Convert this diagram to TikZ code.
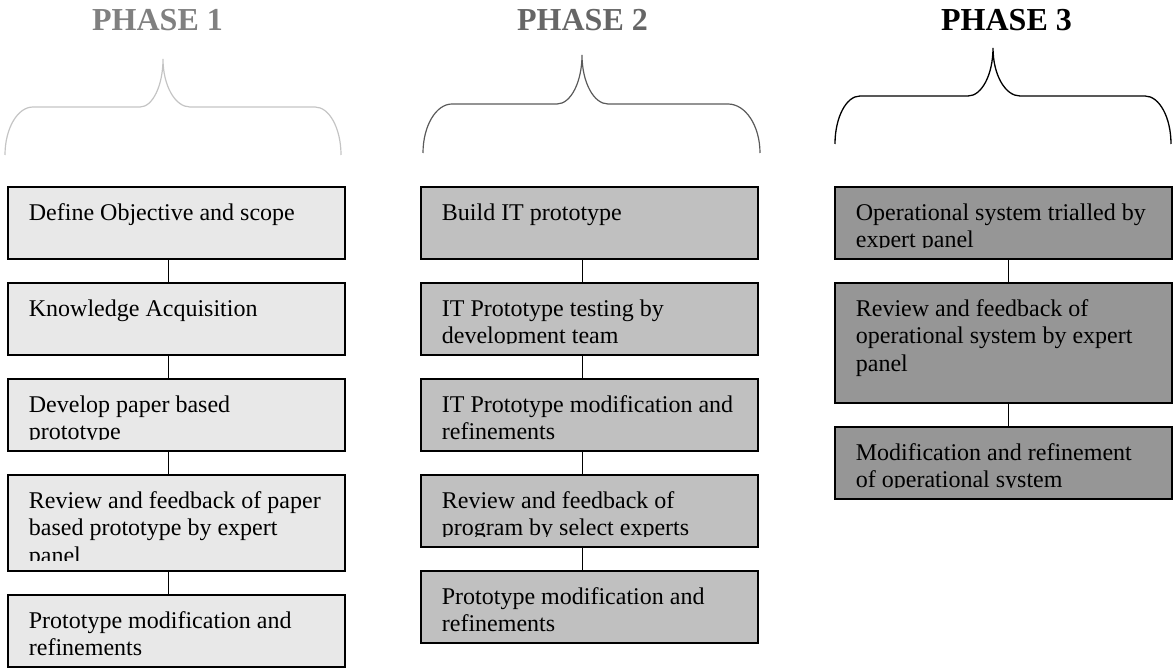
\documentclass[tikz,border=0pt]{standalone}
\usepackage{fontspec}
\setmainfont{Liberation Serif}
\usepackage{tikz}
\definecolor{phaseonefill}{HTML}{E8E8E8}
\definecolor{phasetwofill}{HTML}{C0C0C0}
\definecolor{phasethreefill}{HTML}{969696}
\definecolor{phaseonegrey}{HTML}{808080}
\definecolor{phasetwogrey}{HTML}{666666}
\definecolor{braceone}{HTML}{C4C4C4}
\definecolor{bracetwo}{HTML}{5A5A5A}
\begin{document}
\begin{tikzpicture}[x=0.5pt,y=-0.5pt,
  stage/.style={draw,line width=0.75pt,anchor=north west,inner sep=0pt,outer sep=0pt,minimum width=168.5pt,minimum height=36pt},
  stagetext/.style={anchor=north west,align=left,inner sep=0pt,font=\fontsize{12}{13.7}\selectfont},
  phasetitle/.style={anchor=base,font=\fontsize{16}{19}\selectfont\bfseries},
  link/.style={line width=0.5pt}]
\useasboundingbox (0,0) rectangle (1174,668);

% titles
\node[phasetitle,text=phaseonegrey] (t1) at (157.5,31) {PHASE 1};
\node[phasetitle,text=phasetwogrey] (t2) at (582.5,31) {PHASE 2};
\node[phasetitle,text=black] (t3) at (1006.5,31) {PHASE 3};

% braces
\draw[braceone,line width=0.6pt] (5,155) .. controls (5,128.5) and (17.5,107) .. (33,107) -- (140,107) .. controls (152.7,107) and (163,85.5) .. (163,59) .. controls (163,85.5) and (175.1,107) .. (190,107) -- (315,107) .. controls (329.4,107) and (341,128.5) .. (341,155);
\draw[bracetwo,line width=0.6pt] (423,153) .. controls (423,126) and (436,104) .. (452,104) -- (557,104) .. controls (570.8,104) and (582,82) .. (582,55) .. controls (582,82) and (593.6,104) .. (608,104) -- (728,104) .. controls (745.7,104) and (760,126) .. (760,153);
\draw[black,line width=0.65pt] (835,144) .. controls (835,117.5) and (846.2,96) .. (860,96) -- (968,96) .. controls (981.8,96) and (993,74.5) .. (993,48) .. controls (993,74.5) and (1005.1,96) .. (1020,96) -- (1145,96) .. controls (1159.4,96) and (1171,117.5) .. (1171,144);

% phase 1
\node[stage,fill=phaseonefill] (p1a) at (8,187) {};
\node[stage,fill=phaseonefill] (p1b) at (8,283) {};
\node[stage,fill=phaseonefill] (p1c) at (8,379) {};
\node[stage,fill=phaseonefill,minimum height=48pt] (p1d) at (8,475) {};
\node[stage,fill=phaseonefill] (p1e) at (8,595) {};
\node[stagetext] (p1a-txt) at ([shift={(20.5,13.8)}]p1a.north west) {\strut Define Objective and scope};
\node[stagetext] (p1b-txt) at ([shift={(20.5,13.8)}]p1b.north west) {\strut Knowledge Acquisition};
\node[stagetext] (p1c-txt) at ([shift={(20.5,13.8)}]p1c.north west) {\strut Develop paper based\\prototype};
\node[stagetext] (p1d-txt) at ([shift={(20.5,13.8)}]p1d.north west) {\strut Review and feedback of paper\\based prototype by expert\\panel};
\node[stagetext] (p1e-txt) at ([shift={(20.5,13.8)}]p1e.north west) {\strut Prototype modification and\\refinements};

% phase 2
\node[stage,fill=phasetwofill] (p2a) at (421,187) {};
\node[stage,fill=phasetwofill] (p2b) at (421,283) {};
\node[stage,fill=phasetwofill] (p2c) at (421,379) {};
\node[stage,fill=phasetwofill] (p2d) at (421,475) {};
\node[stage,fill=phasetwofill] (p2e) at (421,571) {};
\node[stagetext] (p2a-txt) at ([shift={(20.5,13.8)}]p2a.north west) {\strut Build IT prototype};
\node[stagetext] (p2b-txt) at ([shift={(20.5,13.8)}]p2b.north west) {\strut IT Prototype testing by\\development team};
\node[stagetext] (p2c-txt) at ([shift={(20.5,13.8)}]p2c.north west) {\strut IT Prototype modification and\\refinements};
\node[stagetext] (p2d-txt) at ([shift={(20.5,13.8)}]p2d.north west) {\strut Review and feedback of\\program by select experts};
\node[stagetext] (p2e-txt) at ([shift={(20.5,13.8)}]p2e.north west) {\strut Prototype modification and\\refinements};

% phase 3
\node[stage,fill=phasethreefill] (p3a) at (835,187) {};
\node[stage,fill=phasethreefill,minimum height=60pt] (p3b) at (835,283) {};
\node[stage,fill=phasethreefill] (p3c) at (835,427) {};
\node[stagetext] (p3a-txt) at ([shift={(20.5,13.8)}]p3a.north west) {\strut Operational system trialled by\\expert panel};
\node[stagetext] (p3b-txt) at ([shift={(20.5,13.8)}]p3b.north west) {\strut Review and feedback of\\operational system by expert\\panel};
\node[stagetext] (p3c-txt) at ([shift={(20.5,13.8)}]p3c.north west) {\strut Modification and refinement\\of operational system};

% text cut off at the box bottom
\foreach \n/\c in {p1c/phaseonefill,p1d/phaseonefill,p2b/phasetwofill,p2d/phasetwofill,p3a/phasethreefill,p3c/phasethreefill}
  \fill[\c] ([shift={(1,-10.5)}]\n.south west) rectangle ([shift={(-1,-1)}]\n.south east);

% connectors
\foreach \a/\b/\dx in {p1a/p1b/-8.5,p1b/p1c/-8.5,p1c/p1d/-8.5,p1d/p1e/-8.5,
  p2a/p2b/-7.5,p2b/p2c/-7.5,p2c/p2d/-7.5,p2d/p2e/-7.5,
  p3a/p3b/4.5,p3b/p3c/4.5}
  \draw[link] ([xshift=\dx*0.5pt]\a.south) -- ([xshift=\dx*0.5pt]\b.north);
\end{tikzpicture}
\end{document}
